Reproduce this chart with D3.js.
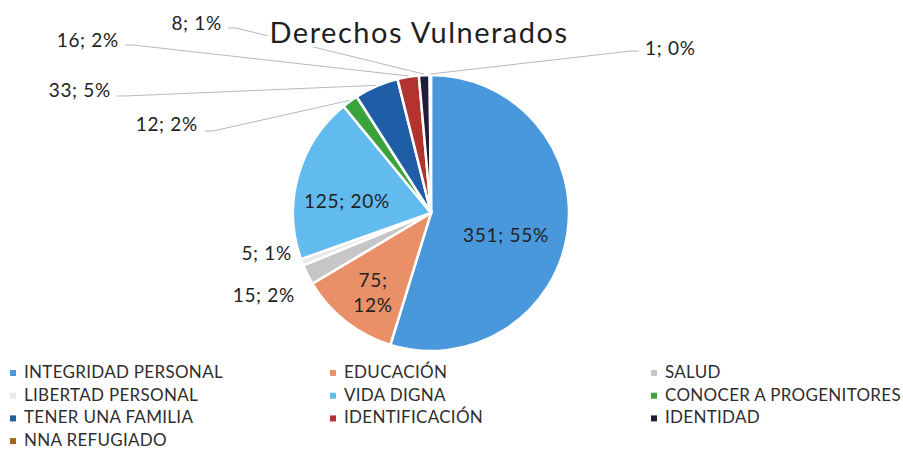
<!DOCTYPE html>
<meta charset="utf-8">
<title>Derechos Vulnerados</title>
<style>
body { margin: 0; background: white; font-family: Lato, 'Open Sans', sans-serif; }
svg { background: white; }
.lbl { fill: #222; font-size: 19px; letter-spacing: 0.7px; }
.leg { fill: #2e2e2e; font-size: 17px; letter-spacing: 0.3px; }
.lead { stroke: #b5b8bc; stroke-width: 1px; fill: none; }
</style>
<body>
<div id="chart"></div>
<script src="https://d3js.org/d3.v7.min.js"></script>
<script>
// data
var categories = ["INTEGRIDAD PERSONAL", "EDUCACIÓN", "SALUD", "LIBERTAD PERSONAL", "VIDA DIGNA",
  "CONOCER A PROGENITORES", "TENER UNA FAMILIA", "IDENTIFICACIÓN", "IDENTIDAD", "NNA REFUGIADO"];
var values = [351, 75, 15, 5, 125, 12, 33, 16, 8, 1];
var percents = [55, 12, 2, 1, 20, 2, 5, 2, 1, 0];
var colors = ["#4a98dc", "#ea9068", "#c6c6c6", "#e9e9e9", "#62bbee", "#3aa33c", "#1f5da6", "#b3332f", "#231c36", "#a8641f"];

var width = 903, height = 459;
var cx = 431, cy = 213, radius = 138;

// where each label sits (layout only)
var labelPos = [
  {x: 506, y: 242, anchor: "middle"},
  {x: 373, y: 287, anchor: "middle", split: true},
  {x: 295, y: 302, anchor: "end"},
  {x: 292, y: 260, anchor: "end"},
  {x: 347, y: 208, anchor: "middle"},
  {x: 198, y: 131, anchor: "end", lead: [205, 131]},
  {x: 111, y: 97, anchor: "end", lead: [117, 96]},
  {x: 119, y: 47, anchor: "end", lead: [125, 45]},
  {x: 222, y: 30, anchor: "end", lead: [228, 28]},
  {x: 645, y: 55, anchor: "start", lead: [639, 51]}
];

var data = categories.map(function(c, i) {
  return {cat: c, value: values[i], pct: percents[i], color: colors[i], pos: labelPos[i]};
});

var svg = d3.select("#chart").append("svg")
  .attr("width", width)
  .attr("height", height);

var pie = d3.pie().sort(null).value(function(d) { return d.value; });
var arc = d3.arc().innerRadius(0).outerRadius(radius);
var outer = d3.arc().innerRadius(radius + 1).outerRadius(radius + 1);

var g = svg.append("g").attr("transform", "translate(" + cx + "," + cy + ")");
var arcs = pie(data);

g.selectAll("path.slice")
  .data(arcs)
  .enter()
  .append("path")
    .attr("class", "slice")
    .attr("d", arc)
    .attr("fill", function(d) { return d.data.color; })
    .attr("stroke", "white")
    .attr("stroke-width", 2.5);

// leader lines
svg.selectAll("path.lead")
  .data(arcs.filter(function(d) { return d.data.pos.lead; }))
  .enter()
  .append("path")
    .attr("class", "lead")
    .attr("d", function(d) {
      var p = outer.centroid(d);
      var s = d.data.pos.lead;
      var dir = d.data.pos.anchor == "start" ? -1 : 1;
      return "M" + s[0] + "," + s[1] + "L" + (s[0] + dir * 8) + "," + s[1] +
        "L" + (cx + p[0]) + "," + (cy + p[1]);
    });

// title drawn over the leader lines
var titleBg = svg.append("rect").attr("fill", "white");
var title = svg.append("text")
  .attr("x", 419)
  .attr("y", 43)
  .attr("text-anchor", "middle")
  .style("font-size", "29px")
  .style("letter-spacing", "1.5px")
  .style("fill", "#1f1f1f")
  .text("Derechos Vulnerados");
var bb = title.node().getBBox();
titleBg.attr("x", bb.x - 2).attr("y", bb.y + 4)
  .attr("width", bb.width + 4).attr("height", bb.height - 6);

// data labels
svg.selectAll("text.lbl")
  .data(data)
  .enter()
  .append("text")
    .attr("class", "lbl")
    .attr("x", function(d) { return d.pos.x; })
    .attr("y", function(d) { return d.pos.y; })
    .attr("text-anchor", function(d) { return d.pos.anchor; })
    .each(function(d) {
      var t = d3.select(this);
      if (d.pos.split) {
        t.append("tspan").text(d.value + ";");
        t.append("tspan").attr("x", d.pos.x).attr("dy", 25).text(d.pct + "%");
      } else {
        t.text(d.value + "; " + d.pct + "%");
      }
    });

// legend
var legX = [10, 330, 651], legY0 = 378, legDy = 22.7;
var leg = svg.selectAll("g.leg")
  .data(data)
  .enter()
  .append("g")
    .attr("transform", function(d, i) {
      return "translate(" + legX[i % 3] + "," + (legY0 + Math.floor(i / 3) * legDy) + ")";
    });
leg.append("rect")
  .attr("x", 0).attr("y", -8)
  .attr("width", 6).attr("height", 6)
  .attr("fill", function(d) { return d.color; });
leg.append("text")
  .attr("class", "leg")
  .attr("x", 14)
  .attr("y", 0)
  .text(function(d) { return d.cat; });
</script>
</body>
